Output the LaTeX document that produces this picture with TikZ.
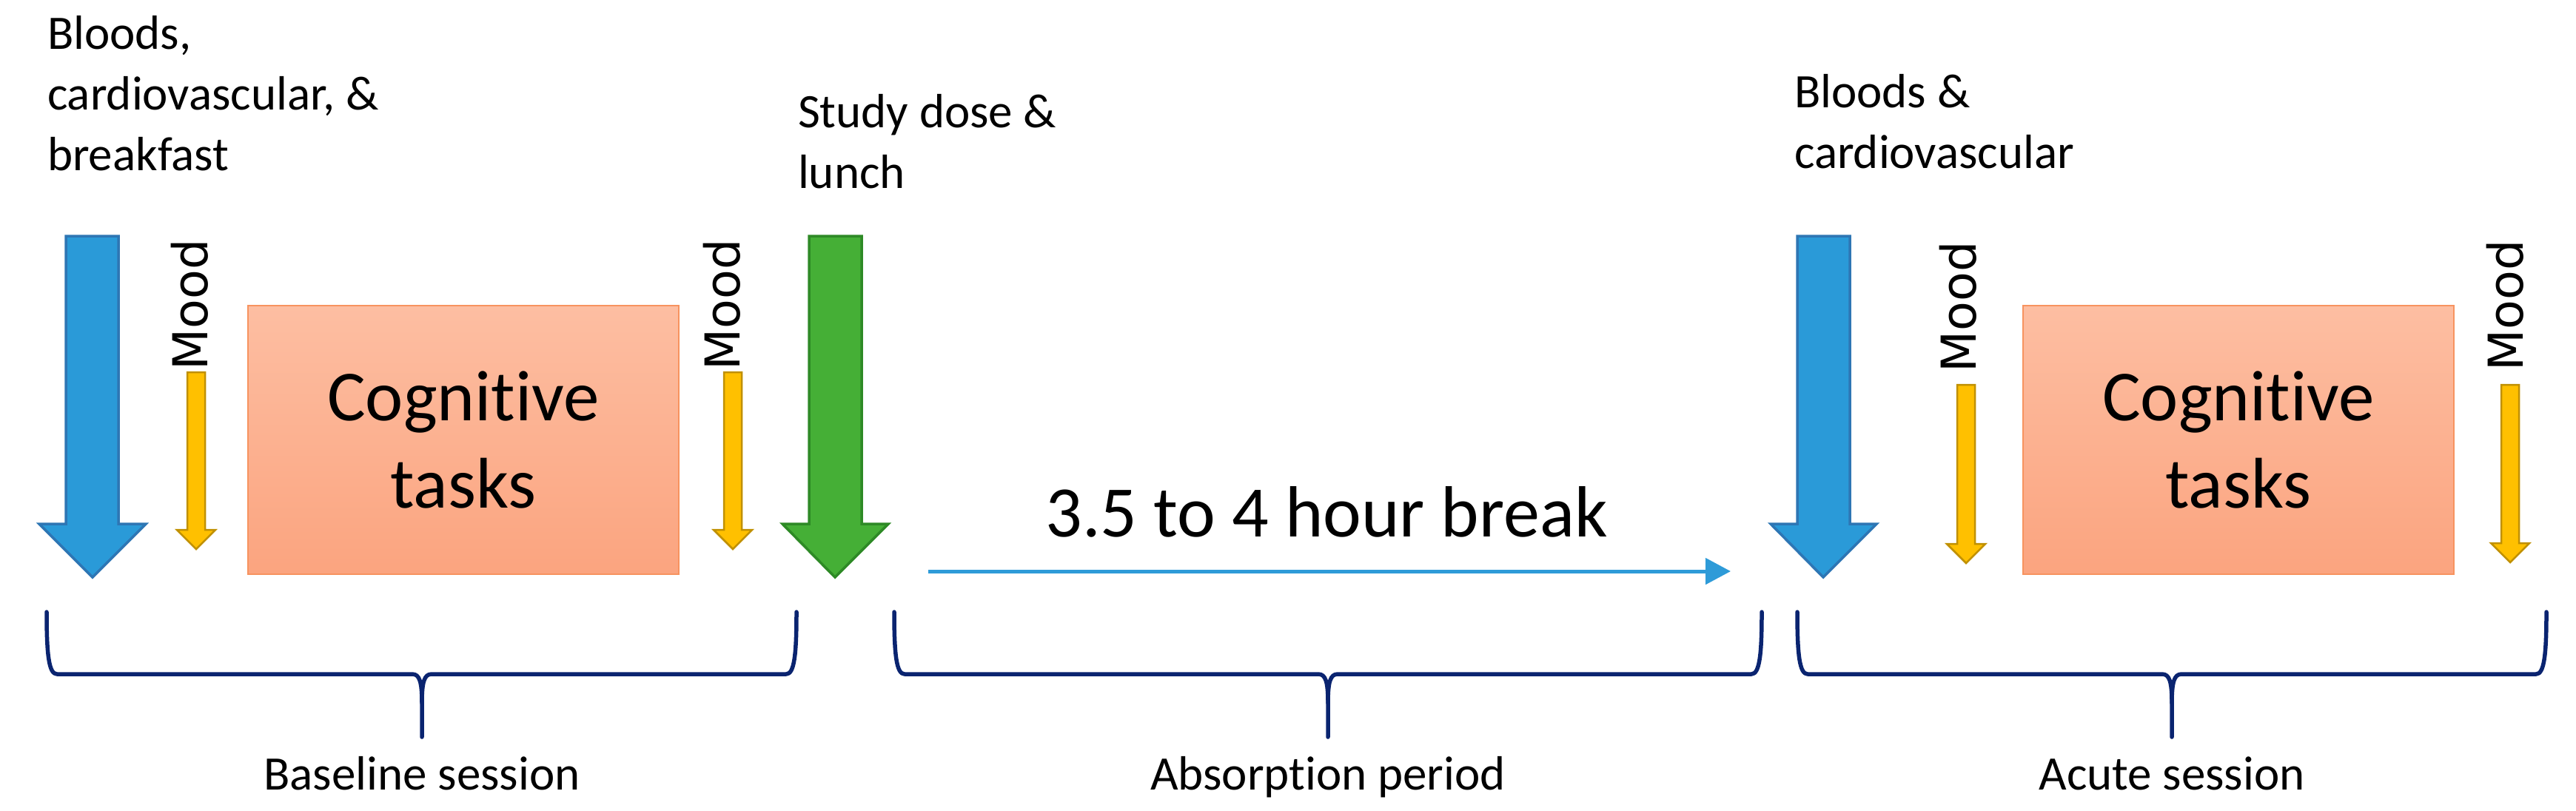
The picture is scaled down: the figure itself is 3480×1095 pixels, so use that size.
\documentclass[tikz,border=0pt]{standalone}
\usepackage{fontspec}
\setmainfont{Carlito}[Ligatures=NoCommon]
\newfontfamily\moodfont{DejaVu Sans}
\usetikzlibrary{arrows.meta}
\definecolor{bluefill}{HTML}{2A9AD8}
\definecolor{blueline}{HTML}{2E76B4}
\definecolor{greenfill}{HTML}{45AF36}
\definecolor{greenline}{HTML}{2E8A26}
\definecolor{goldfill}{HTML}{FFC000}
\definecolor{goldline}{HTML}{C09000}
\definecolor{boxtop}{HTML}{FDBEA2}
\definecolor{boxbot}{HTML}{FBA47F}
\definecolor{boxline}{HTML}{F7935F}
\definecolor{bracecol}{HTML}{0A2470}
\definecolor{thinblue}{HTML}{2E9BD8}
\tikzset{
  bigblue/.style={fill=bluefill, draw=blueline, line width=0.35pt, line join=miter},
  biggreen/.style={fill=greenfill, draw=greenline, line width=0.35pt, line join=miter},
  moodarrow/.style={fill=goldfill, draw=goldline, line width=0.25pt},
  cogbox/.style={rectangle, top color=boxtop, bottom color=boxbot, draw=boxline, line width=0.25pt,
    minimum width=58.2pt, minimum height=36.3pt, inner sep=0pt, align=center,
    font=\fontsize{9.7}{11.8}\selectfont},
  toplabel/.style={anchor=base west, align=left, inner sep=0pt, font=\fontsize{6.5}{8.2}\selectfont},
  bottomlabel/.style={anchor=base, inner sep=0pt, font=\fontsize{6.5}{8.1}\selectfont},
  moodlabel/.style={rotate=90, inner sep=0pt, font=\moodfont\fontsize{6.5}{7}\selectfont},
  bracestroke/.style={draw=bracecol, line width=0.55pt, line cap=round, line join=round},
  breakarrow/.style={draw=thinblue, line width=0.5pt, -{Triangle[length=3.4pt, width=3.5pt]}},
}
\begin{document}
\begin{tikzpicture}[x=0.1pt, y=-0.1pt]
\useasboundingbox (0,0) rectangle (3480,1095);

% top labels (base anchor = last line's baseline)
\node[toplabel] (lab1) at (62,230) {Bloods,\\cardiovascular, \&\\breakfast};
\node[toplabel] (lab2) at (1076,254) {Study dose \&\\lunch};
\node[toplabel] (lab3) at (2422,227) {Bloods \&\\cardiovascular};

% big arrows
\draw[bigblue] (89,319) -- (160,319) -- (160,708) -- (197,708) -- (125,780) -- (53,708) -- (89,708) -- cycle;
\draw[biggreen] (1093,319) -- (1164,319) -- (1164,708) -- (1200,708) -- (1128,780) -- (1057,708) -- (1093,708) -- cycle;
\draw[bigblue] (2428,319) -- (2499,319) -- (2499,708) -- (2535,708) -- (2463,780) -- (2392,708) -- (2428,708) -- cycle;

% mood arrows
\draw[moodarrow] (253,503) -- (277,503) -- (277,716) -- (291,716) -- (265,742) -- (239,716) -- (253,716) -- cycle;
\draw[moodarrow] (978,503) -- (1002,503) -- (1002,716) -- (1016,716) -- (990,742) -- (964,716) -- (978,716) -- cycle;
\draw[moodarrow] (2644,520) -- (2668,520) -- (2668,735) -- (2682,735) -- (2656,761) -- (2630,735) -- (2644,735) -- cycle;
\draw[moodarrow] (3379,520) -- (3403,520) -- (3403,734) -- (3417,734) -- (3391,760) -- (3365,734) -- (3379,734) -- cycle;

% mood labels
\node[moodlabel] (m1) at (256,412) {Mood};
\node[moodlabel] (m2) at (975,412) {Mood};
\node[moodlabel] (m3) at (2645,415) {Mood};
\node[moodlabel] (m4) at (3384,413) {Mood};

% cognitive task boxes
\node[cogbox] (cog1) at (626,594.5) {Cognitive\\tasks};
\node[cogbox] (cog2) at (3024,594.5) {Cognitive\\tasks};

% break arrow
\node[anchor=base, inner sep=0pt, font=\fontsize{9.8}{11.8}\selectfont] (brk) at (1792,725) {3.5 to 4 hour break};
\coordinate (bs) at (1254,772);
\coordinate (be) at (2338,772);
\draw[breakarrow] (bs) -- (be);

% braces
\foreach \xl/\xc/\xr in {63/570/1076, 1208/1794/2380, 2428/2934/3440}{
  \draw[bracestroke] (\xl,827) .. controls (\xl,885) and (\xl+3,911) .. (\xl+14,911)
     -- (\xc-13,911) .. controls (\xc-3,911) and (\xc,922) .. (\xc,950) -- (\xc,996);
  \draw[bracestroke] (\xr,827) .. controls (\xr,885) and (\xr-3,911) .. (\xr-14,911)
     -- (\xc+13,911) .. controls (\xc+3,911) and (\xc,922) .. (\xc,950);
}

% bottom labels
\node[bottomlabel] (s1) at (570,1067) {Baseline session};
\node[bottomlabel] (s2) at (1794,1067) {Absorption period};
\node[bottomlabel] (s3) at (2934,1067) {Acute session};
\end{tikzpicture}
\end{document}
